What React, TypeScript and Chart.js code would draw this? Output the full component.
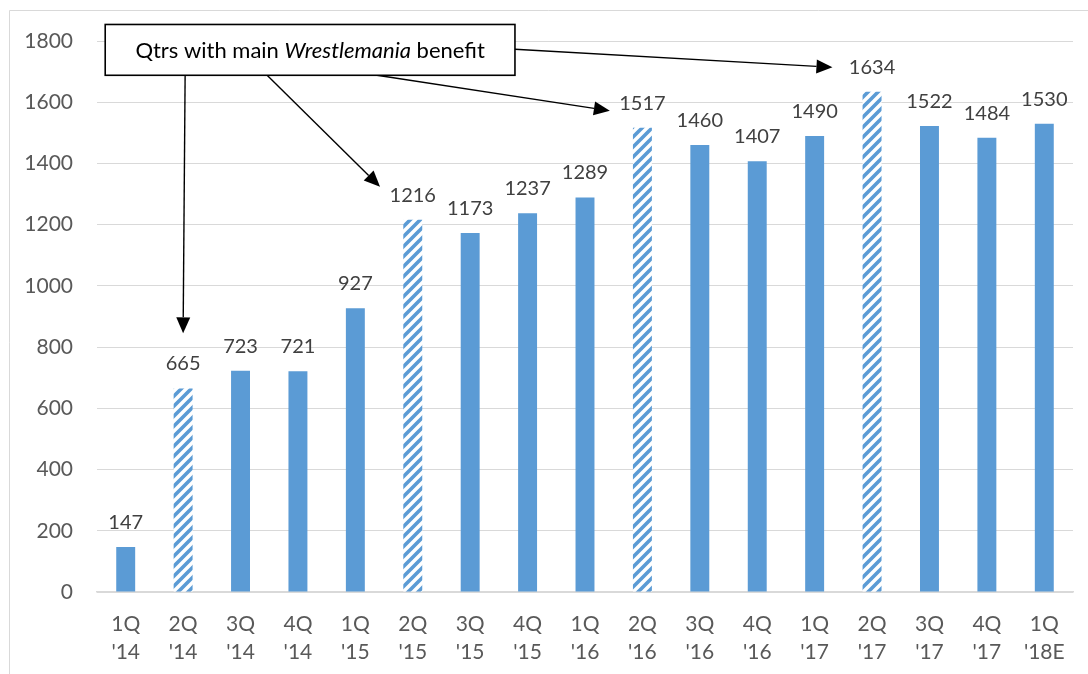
import React, { useEffect, useRef } from 'react';
import { Chart, registerables } from 'chart.js';

Chart.register(...registerables);

// ---- data ----
const categories: string[][] = [
  ['1Q', "'14"], ['2Q', "'14"], ['3Q', "'14"], ['4Q', "'14"],
  ['1Q', "'15"], ['2Q', "'15"], ['3Q', "'15"], ['4Q', "'15"],
  ['1Q', "'16"], ['2Q', "'16"], ['3Q', "'16"], ['4Q', "'16"],
  ['1Q', "'17"], ['2Q', "'17"], ['3Q', "'17"], ['4Q', "'17"],
  ['1Q', "'18E"],
];
const values: number[] = [147, 665, 723, 721, 927, 1216, 1173, 1237, 1289, 1517, 1460, 1407, 1490, 1634, 1522, 1484, 1530];
const wrestlemaniaQtr: boolean[] = [false, true, false, false, false, true, false, false, false, true, false, false, false, true, false, false, false];
const yMin = 0;
const yMax = 1800;
const yStep = 200;

// annotation (in category-index / value coordinates)
const noteParts: { text: string; italic: boolean }[] = [
  { text: 'Qtrs with main ', italic: false },
  { text: 'Wrestlemania', italic: true },
  { text: ' benefit', italic: false },
];
const noteBoxX: number[] = [-0.357, 6.78];
const noteBoxY: number[] = [1854, 1688];
const arrowFrom: number[][] = [[1.035, 1688], [2.463, 1688], [4.377, 1688], [6.78, 1773]];
const arrowTo: number[][] = [[1.0, 845], [4.43, 1324], [8.433, 1572], [12.31, 1714]];

const BLUE = '#5B9BD5';
const FONT = 'Lato, "Open Sans", sans-serif';

function makeHatch(ctx: CanvasRenderingContext2D): CanvasPattern | string {
  const n = 10;
  const c = document.createElement('canvas');
  c.width = n;
  c.height = n;
  const g = c.getContext('2d');
  if (!g) return BLUE;
  g.fillStyle = '#ffffff';
  g.fillRect(0, 0, n, n);
  g.strokeStyle = BLUE;
  g.lineWidth = 3.6;
  g.lineCap = 'square';
  const segs = [[-3, 3, 3, -3], [0, n, n, 0], [n - 3, n + 3, n + 3, n - 3]];
  segs.forEach(([x1, y1, x2, y2]) => {
    g.beginPath();
    g.moveTo(x1, y1);
    g.lineTo(x2, y2);
    g.stroke();
  });
  return ctx.createPattern(c, 'repeat') || BLUE;
}

const frameBorder = {
  id: 'frameBorder',
  beforeDraw(chart: any) {
    const ctx = chart.ctx;
    ctx.save();
    ctx.fillStyle = '#ffffff';
    ctx.fillRect(0, 0, chart.width, chart.height);
    ctx.strokeStyle = '#D9D9D9';
    ctx.lineWidth = 1;
    ctx.beginPath();
    ctx.moveTo(9.5, chart.height);
    ctx.lineTo(9.5, 10.5);
    ctx.lineTo(chart.width, 10.5);
    ctx.stroke();
    ctx.restore();
  },
};

const valueLabels = {
  id: 'valueLabels',
  afterDatasetsDraw(chart: any) {
    const ctx = chart.ctx;
    const meta = chart.getDatasetMeta(0);
    ctx.save();
    ctx.font = `20px ${FONT}`;
    ctx.fillStyle = '#404040';
    ctx.textAlign = 'center';
    ctx.textBaseline = 'alphabetic';
    meta.data.forEach((bar: any, i: number) => {
      ctx.fillText(String(values[i]), bar.x, bar.y - 18);
    });
    ctx.restore();
  },
};

function drawArrow(ctx: CanvasRenderingContext2D, x1: number, y1: number, x2: number, y2: number) {
  const ang = Math.atan2(y2 - y1, x2 - x1);
  const headLen = 16;
  const headHalf = 7;
  const bx = x2 - headLen * Math.cos(ang);
  const by = y2 - headLen * Math.sin(ang);
  ctx.beginPath();
  ctx.moveTo(x1, y1);
  ctx.lineTo(bx, by);
  ctx.stroke();
  ctx.beginPath();
  ctx.moveTo(x2, y2);
  ctx.lineTo(bx + headHalf * Math.sin(ang), by - headHalf * Math.cos(ang));
  ctx.lineTo(bx - headHalf * Math.sin(ang), by + headHalf * Math.cos(ang));
  ctx.closePath();
  ctx.fill();
}

const noteAnnotation = {
  id: 'noteAnnotation',
  afterDraw(chart: any) {
    const ctx = chart.ctx;
    const xs = chart.scales.x;
    const ys = chart.scales.y;
    const px = (v: number) => xs.getPixelForValue(v);
    const py = (v: number) => ys.getPixelForValue(v);
    ctx.save();
    ctx.strokeStyle = '#000000';
    ctx.fillStyle = '#000000';
    ctx.lineWidth = 1.4;
    arrowFrom.forEach((f, i) => {
      const t = arrowTo[i];
      drawArrow(ctx, px(f[0]), py(f[1]), px(t[0]), py(t[1]));
    });
    const left = px(noteBoxX[0]);
    const right = px(noteBoxX[1]);
    const top = py(noteBoxY[0]);
    const bottom = py(noteBoxY[1]);
    ctx.fillStyle = '#ffffff';
    ctx.fillRect(left, top, right - left, bottom - top);
    ctx.lineWidth = 1.6;
    ctx.strokeRect(left, top, right - left, bottom - top);
    // text
    const fonts = noteParts.map((p) => `${p.italic ? 'italic ' : ''}22px ${FONT}`);
    let total = 0;
    const widths = noteParts.map((p, i) => {
      ctx.font = fonts[i];
      const w = ctx.measureText(p.text).width;
      total += w;
      return w;
    });
    let x = (left + right) / 2 - total / 2;
    const y = (top + bottom) / 2;
    ctx.fillStyle = '#000000';
    ctx.textBaseline = 'middle';
    ctx.textAlign = 'left';
    noteParts.forEach((p, i) => {
      ctx.font = fonts[i];
      ctx.fillText(p.text, x, y + 1);
      x += widths[i];
    });
    ctx.restore();
  },
};

export default function App() {
  const ref = useRef<HTMLCanvasElement | null>(null);

  useEffect(() => {
    const canvas = ref.current;
    if (!canvas) return;
    const ctx = canvas.getContext('2d');
    if (!ctx) return;
    const hatch = makeHatch(ctx);
    const chart = new Chart(ctx, {
      type: 'bar',
      data: {
        labels: categories,
        datasets: [
          {
            data: values,
            backgroundColor: values.map((_, i) => (wrestlemaniaQtr[i] ? hatch : BLUE)) as any,
            borderWidth: 0,
            barPercentage: 0.33,
            categoryPercentage: 1,
          },
        ],
      },
      options: {
        responsive: false,
        animation: false,
        layout: { padding: { top: 41, right: 15, bottom: 0, left: 0 } },
        plugins: {
          legend: { display: false },
          tooltip: { enabled: false },
          title: { display: false },
        },
        scales: {
          x: {
            grid: { display: false, drawTicks: false },
            border: { display: true, color: '#D9D9D9', width: 1.5 },
            ticks: {
              color: '#595959',
              font: { family: FONT, size: 21, lineHeight: 1.35 },
              padding: 18,
              maxRotation: 0,
              autoSkip: false,
            },
            afterFit: (scale: any) => {
              scale.height = 82;
            },
          },
          y: {
            min: yMin,
            max: yMax,
            grid: { color: '#D9D9D9', lineWidth: 1, drawTicks: false },
            border: { display: false },
            ticks: {
              stepSize: yStep,
              color: '#595959',
              font: { family: FONT, size: 21 },
              padding: 24,
              callback: (v: any) => String(v),
            },
            afterFit: (scale: any) => {
              scale.width = 97;
            },
          },
        },
      },
      plugins: [frameBorder, valueLabels, noteAnnotation],
    });
    return () => chart.destroy();
  }, []);

  return (
    <div style={{ position: 'absolute', left: 0, top: 0, width: 1088, height: 674 }}>
      <canvas ref={ref} width={1088} height={674} style={{ display: 'block' }} />
    </div>
  );
}
